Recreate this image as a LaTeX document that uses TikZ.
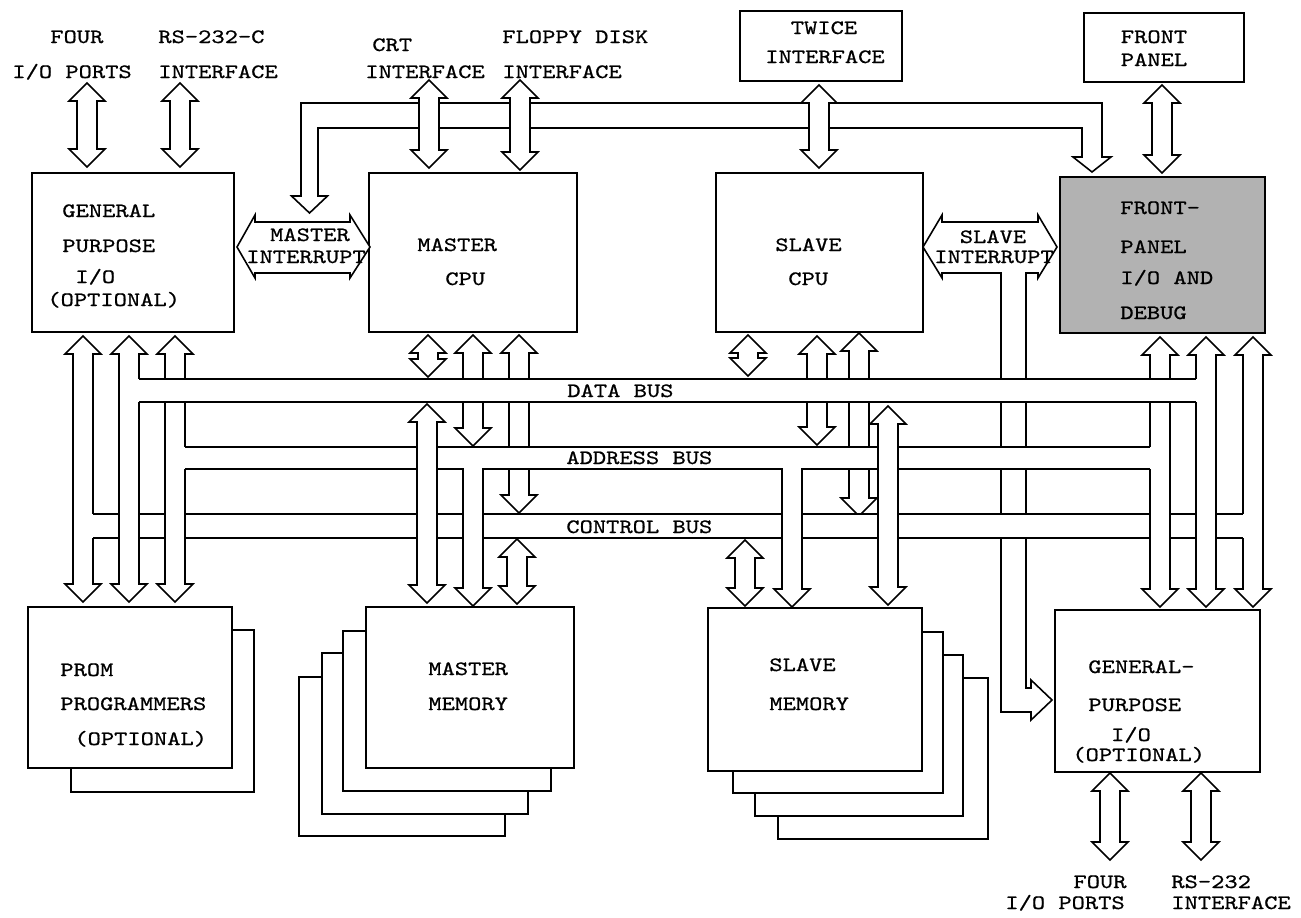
\documentclass[tikz,border=0pt]{standalone}
\usepackage{fontspec}
\newfontfamily\lbfont[FakeStretch=1.24,FakeBold=0.8]{lmmono10-regular.otf}
\usetikzlibrary{fit}
\tikzset{
  ln/.style={line width=0.9pt, black, line join=miter},
  fat/.style={ln, fill=white},
  box/.style={ln, draw, fill=white, inner sep=0pt},
  txt/.style={inner sep=0pt, font={\lbfont\fontsize{11.6}{14}\selectfont}, anchor=base west},
  txtc/.style={txt, anchor=base},
}
\newcommand\fatH{18}
\newcommand\fatW{10}
\newcommand\fatL{18}
% vertical double arrow: centre x, top tip y, bottom tip y
\newcommand\dblV[3]{\draw[fat] (#1,#2) -- ({#1+\fatH},{#2+\fatL}) -- ({#1+\fatW},{#2+\fatL}) -- ({#1+\fatW},{#3-\fatL}) -- ({#1+\fatH},{#3-\fatL}) -- (#1,#3) -- ({#1-\fatH},{#3-\fatL}) -- ({#1-\fatW},{#3-\fatL}) -- ({#1-\fatW},{#2+\fatL}) -- ({#1-\fatH},{#2+\fatL}) -- cycle;}
% down arrow with open top joining a bus
\newcommand\downOpen[3]{\fill[white] ({#1-\fatW+0.8},{#2-3}) rectangle ({#1+\fatW-0.8},{#2+2});
  \draw[fat] ({#1-\fatW},#2) -- ({#1-\fatW},{#3-\fatL}) -- ({#1-\fatH},{#3-\fatL}) -- (#1,#3) -- ({#1+\fatH},{#3-\fatL}) -- ({#1+\fatW},{#3-\fatL}) -- ({#1+\fatW},#2);}
% horizontal bus: y top, y bottom, fill x1, fill x2, line x1, line x2
\newcommand\busH[6]{\fill[white] (#3,#1) rectangle (#4,#2);
  \draw[ln] (#5,#1) -- (#6,#1); \draw[ln] (#5,#2) -- (#6,#2);}
\begin{document}
\begin{tikzpicture}[x=0.02cm, y=-0.02cm]
\useasboundingbox (0,0) rectangle (1301,917);
\fill[white] (0,0) rectangle (1301,917);

% ---------- boxes ----------
\node[box, fit={(32,173)(234,332)}] (gpioA) {};
\node[box, fit={(369,173)(577,332)}] (mcpu) {};
\node[box, fit={(716,173)(923,332)}] (scpu) {};
\node[box, fill=black!30, line width=1.3pt, fit={(1060,177)(1265,333)}] (fpio) {};
\node[box, fit={(740,11)(902,81)}] (twice) {};
\node[box, fit={(1084,13)(1244,82)}] (fpanel) {};

\node[box, fit={(71,630)(254,792)}] (promB) {};
\node[box, fit={(28,607)(232,768)}] (prom) {};

\node[box, fit={(299,677)(505,836)}] (mmemD) {};
\node[box, fit={(322,653)(528,814)}] (mmemC) {};
\node[box, fit={(343,631)(551,791)}] (mmemB) {};
\node[box, fit={(366,607)(574,768)}] (mmem) {};

\node[box, fit={(778,678)(988,839)}] (smemD) {};
\node[box, fit={(755,655)(963,816)}] (smemC) {};
\node[box, fit={(733,632)(943,793)}] (smemB) {};
\node[box, fit={(708,608)(922,771)}] (smem) {};

\node[box, fit={(1055,610)(1260,772)}] (gpioB) {};

% ---------- top interrupt / interface bus ----------
\draw[fat] (301,196) -- (301,103) -- (1102,103) -- (1102,157) -- (1111,157) -- (1092,172) -- (1073,157) -- (1082,157) -- (1082,128) -- (318,128) -- (318,196) -- (327.5,196) -- (309.5,213) -- (291.5,196) -- cycle;

% top arrows
\dblV{87}{83}{167}
\dblV{180}{83}{167}
\dblV{429}{80}{168}
\dblV{520}{80}{170}
\dblV{819}{85}{168}
\dblV{1162}{85}{173}

% master interrupt
\draw[fat] (237,247) -- (255,215) -- (255,222) -- (350,222) -- (350,215) -- (370,247) -- (350,278) -- (350,273) -- (255,273) -- (255,278) -- cycle;
% slave interrupt with path down to general-purpose I/O
\draw[fat] (1026,273) -- (1038,273) -- (1038,278) -- (1057,247) -- (1038,215) -- (1038,222) -- (942,222) -- (942,215) -- (923,247) -- (942,278) -- (942,273) -- (1001,273) -- (1001,712) -- (1031,712) -- (1031,720) -- (1052,700) -- (1031,680) -- (1031,688) -- (1026,688) -- cycle;

% ---------- bus plumbing ----------
\dblV{473}{335}{446}
\dblV{519}{335}{513}
\dblV{817}{336}{445}
\dblV{859}{333}{516}
\dblV{83}{336}{602}
\dblV{1253}{337}{607}
% control bus
\busH{514}{538}{83}{1253}{93}{1243}
\dblV{129}{336}{602}
\dblV{175}{336}{602}
\dblV{1160}{337}{607}
\dblV{1206}{337}{607}
% address bus
\busH{447}{469}{175}{1160}{185}{1150}
\dblV{427}{404}{603}
\dblV{888}{406}{605}
\downOpen{473}{469}{606}
\downOpen{792}{469}{607}
\dblV{517}{539}{604}
\dblV{745}{540}{606}
% data bus
\busH{379}{402}{129}{1206}{139}{1196}
\dblV{428}{335}{377}
\dblV{748}{335}{376}

% bottom arrows
\dblV{1110}{773}{860}
\dblV{1201}{773}{860}

% ---------- texts ----------
\node[txt] (t1) at (50,43) {FOUR};
\node[txt] (t2) at (12,78) {I/O PORTS};
\node[txt] (t3) at (158,43) {RS-232-C};
\node[txt] (t4) at (158,78) {INTERFACE};
\node[txt] (t5) at (372,51) {CRT};
\node[txt] (t6) at (365,78) {INTERFACE};
\node[txt] (t7) at (502,43) {FLOPPY DISK};
\node[txt] (t8) at (502,78) {INTERFACE};
\node[txtc] (t9) at (824,34) {TWICE};
\node[txtc] (t10) at (825,63) {INTERFACE};
\node[txtc] (t11) at (1154,43) {FRONT};
\node[txtc] (t12) at (1154,66) {PANEL};

\node[txt] (g1) at (62,217) {GENERAL};
\node[txt] (g2) at (62,252) {PURPOSE};
\node[txt] (g3) at (75,283) {I/O};
\node[txt] (g4) at (47,306) {(OPTIONAL)};

\node[txtc] (mi1) at (310,241) {MASTER};
\node[txtc] (mi2) at (306,263) {INTERRUPT};
\node[txt] (mc1) at (417,251) {MASTER};
\node[txt] (mc2) at (445,285) {CPU};
\node[txt] (sc1) at (775,251) {SLAVE};
\node[txt] (sc2) at (788,285) {CPU};
\node[txtc] (si1) at (993,243) {SLAVE};
\node[txtc] (si2) at (994,263) {INTERRUPT};

\node[txt] (f1) at (1120,214) {FRONT-};
\node[txt] (f2) at (1120,253) {PANEL};
\node[txt] (f3) at (1120,284) {I/O AND};
\node[txt] (f4) at (1120,319) {DEBUG};

\node[txt] (b1) at (567,397) {DATA BUS};
\node[txt] (b2) at (566,464) {ADDRESS BUS};
\node[txt] (b3) at (566,533) {CONTROL BUS};

\node[txt] (p1) at (60,676) {PROM};
\node[txt] (p2) at (60,710) {PROGRAMMERS};
\node[txt] (p3) at (74,745) {(OPTIONAL)};

\node[txt] (mm1) at (428,675) {MASTER};
\node[txt] (mm2) at (428,710) {MEMORY};
\node[txt] (sm1) at (769,671) {SLAVE};
\node[txt] (sm2) at (769,710) {MEMORY};

\node[txt] (h1) at (1088,673) {GENERAL-};
\node[txt] (h2) at (1088,711) {PURPOSE};
\node[txtc] (h3) at (1131,741) {I/O};
\node[txt] (h4) at (1072,761) {(OPTIONAL)};

\node[txtc] (u1) at (1100,888) {FOUR};
\node[txt] (u2) at (1005,909) {I/O PORTS};
\node[txt] (u3) at (1171,888) {RS-232};
\node[txt] (u4) at (1171,909) {INTERFACE};
\end{tikzpicture}
\end{document}
